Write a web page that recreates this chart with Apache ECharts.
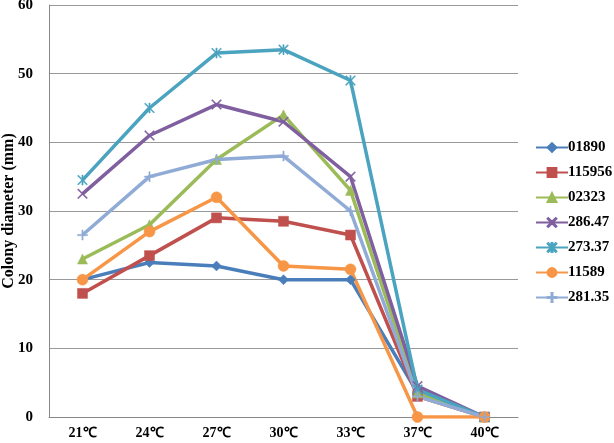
<!DOCTYPE html>
<html>
<head>
<meta charset="utf-8">
<script src="https://cdn.jsdelivr.net/npm/echarts@6/dist/echarts.min.js"></script>
<style>
  html, body { margin: 0; padding: 0; background: #fff; }
  #chart { width: 614px; height: 443px; }
</style>
</head>
<body>
<div id="chart"></div>
<script>
const temps = ['21℃', '24℃', '27℃', '30℃', '33℃', '37℃', '40℃']

const s01890  = [20, 22.5, 22, 20, 20, 3.5, 0]
const s115956 = [18, 23.5, 29, 28.5, 26.5, 3, 0]
const s02323  = [23, 28, 37.5, 44, 33, 3.5, 0]
const s28647  = [32.5, 41, 45.5, 43, 35, 4.5, 0]
const s27337  = [34.5, 45, 53, 53.5, 49, 4, 0]
const s11589  = [20, 27, 32, 22, 21.5, 0, 0]
const s28135  = [26.5, 35, 37.5, 38, 30, 3, 0]

// thin-stroke marker shapes
const plusPath = 'path://M4.4,0H5.6V4.4H10V5.6H5.6V10H4.4V5.6H0V4.4H4.4Z'
const crossPath = 'path://M0.8,0L5,4.2L9.2,0L10,0.8L5.8,5L10,9.2L9.2,10L5,5.8L0.8,10L0,9.2L4.2,5L0,0.8Z'
const starPath = 'path://M0.8,0L5,4.2L9.2,0L10,0.8L5.8,5L10,9.2L9.2,10L5,5.8L0.8,10L0,9.2L4.2,5L0,0.8Z M4.4,0H5.6V10H4.4Z'

const chart = echarts.init(document.getElementById('chart'))

const mk = (name, data, color, symbol, size) => ({
  name,
  type: 'line',
  data,
  symbol,
  symbolSize: size,
  showAllSymbol: true,
  lineStyle: { width: 3.5, color },
  itemStyle: { color, borderColor: color, borderWidth: 0.5 },
  emphasis: { disabled: true },
  z: 2
})

const option = {
  animation: false,
  textStyle: { fontFamily: 'Liberation Serif' },
  grid: { left: 49, right: 96, top: 5, bottom: 26, outerBoundsMode: 'none', containLabel: false },
  legend: {
    orient: 'vertical',
    left: 530,
    top: 135,
    itemWidth: 32,
    itemHeight: 11,
    itemGap: 10,
    textStyle: { fontFamily: 'Liberation Serif', fontWeight: 'bold', fontSize: 15, color: '#000', padding: [0, 0, 0, -5] },
    data: ['01890', '115956', '02323', '286.47', '273.37', '11589', '281.35']
  },
  xAxis: {
    type: 'category',
    data: temps,
    boundaryGap: true,
    axisLine: { lineStyle: { color: '#888', width: 1 } },
    axisTick: { show: false },
    axisLabel: { color: '#000', fontWeight: 'bold', fontSize: 14, fontFamily: 'Liberation Serif', margin: 9 }
  },
  yAxis: {
    type: 'value',
    min: 0,
    max: 60,
    interval: 10,
    name: 'Colony diameter (mm)',
    nameLocation: 'middle',
    nameGap: 32,
    nameMoveOverlap: false,
    nameTextStyle: { color: '#000', fontWeight: 'bold', fontSize: 16, fontFamily: 'Liberation Serif' },
    axisLine: { show: true, lineStyle: { color: '#888', width: 1 } },
    axisTick: { show: false },
    splitLine: { lineStyle: { color: '#999', width: 1 } },
    axisLabel: { color: '#000', fontWeight: 'bold', fontSize: 15, fontFamily: 'Liberation Serif', margin: 16 }
  },
  series: [
    mk('01890', s01890, '#4a7ebb', 'diamond', 10),
    mk('115956', s115956, '#c0504d', 'rect', 10),
    mk('02323', s02323, '#9bbb59', 'triangle', 10),
    mk('286.47', s28647, '#7f5f9f', crossPath, 10),
    mk('273.37', s27337, '#4aa3bf', starPath, 10),
    mk('11589', s11589, '#f79646', 'circle', 11),
    mk('281.35', s28135, '#8fabd6', plusPath, 10)
  ]
}

chart.setOption(option)
</script>
</body>
</html>
